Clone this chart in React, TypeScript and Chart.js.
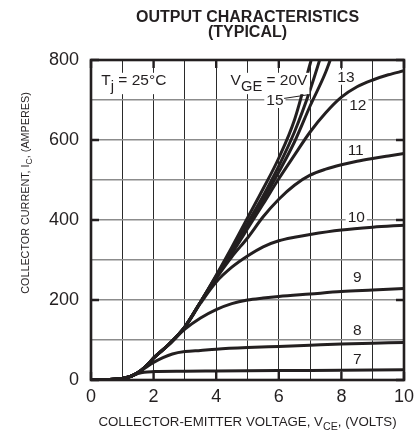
import React, { useEffect, useRef } from "react";
import { Chart, registerables } from "chart.js";

Chart.register(...registerables);

// ---- Data ----
const vceBundle = [0, 0.5, 1.0, 1.3, 1.6, 1.8, 2.0, 2.5, 3.0, 3.5, 4.0, 4.5, 5.0, 5.5, 6.0, 6.5, 7.0, 7.5, 8.0];
const ic20 = [0, 1, 4, 10, 24, 38, 55, 90, 133, 195, 262, 332, 405, 478, 555, 650, 790, 930, 1060];
const ic15 = [0, 1, 4, 10, 24, 38, 55, 90, 133, 195, 260, 325, 392, 460, 535, 620, 725, 850, 980];
const ic13 = [0, 1, 4, 10, 24, 38, 55, 90, 133, 195, 258, 320, 385, 450, 520, 595, 685, 770, 880];

const vce12 = [0, 0.5, 1, 1.3, 1.6, 1.8, 2, 2.5, 3, 3.5, 4, 4.5, 5, 5.5, 6, 6.5, 7, 7.5, 8, 8.5, 9, 9.5, 10];
const ic12 = [0, 1, 4, 10, 24, 38, 55, 90, 133, 195, 256, 316, 378, 440, 503, 562, 620, 668, 707, 733, 750, 763, 773];

const vce11 = [0, 0.5, 1, 1.3, 1.6, 1.8, 2, 2.5, 3, 3.5, 4, 4.5, 5, 5.5, 6, 6.5, 7, 7.5, 8, 8.5, 9, 9.5, 10];
const ic11 = [0, 1, 4, 10, 24, 38, 55, 90, 133, 195, 254, 308, 355, 408, 452, 487, 512, 527, 538, 547, 554, 560, 566];

const vce10 = [0, 0.5, 1, 1.3, 1.6, 1.8, 2, 2.5, 3, 3.5, 4, 4.5, 5, 5.5, 6, 6.5, 7, 8, 9, 10];
const ic10 = [0, 1, 4, 10, 24, 38, 55, 90, 132, 192, 245, 282, 310, 333, 348, 357, 364, 375, 382, 387];

const vce9 = [0, 0.5, 1, 1.3, 1.6, 1.8, 2, 2.5, 3, 3.5, 4, 4.5, 5, 5.5, 6, 7, 8, 9, 10];
const ic9 = [0, 1, 4, 10, 24, 38, 55, 89, 127, 155, 176, 191, 200, 205, 209, 215, 221, 225, 229];

const vce8 = [0, 0.5, 1, 1.3, 1.6, 1.8, 2, 2.3, 2.6, 3, 3.5, 4, 5, 6, 7, 8, 9, 10];
const ic8 = [0, 1, 4, 10, 23, 34, 44, 56, 65, 71, 74, 77, 81, 84, 87, 90, 92, 94];

const vce7 = [0, 0.5, 1, 1.3, 1.5, 1.7, 2, 3, 4, 6, 8, 10];
const ic7 = [0, 1, 4, 10, 16, 19.5, 21, 22, 22.5, 23.5, 24.5, 25.5];

const xTicks = [0, 2, 4, 6, 8, 10];
const yTicks = [0, 200, 400, 600, 800];

const FAMILY = "'Liberation Sans', Arial, Helvetica, sans-serif";
const INK = "#231f20";

type Seg = { t: string; sub?: boolean };

function drawRich(
  ctx: CanvasRenderingContext2D,
  segs: Seg[],
  x: number,
  y: number,
  size: number,
  align: "left" | "center",
  subScale: number,
  subShift: number,
  bg?: boolean
) {
  ctx.textAlign = "left";
  ctx.textBaseline = "alphabetic";
  let w = 0;
  const widths: number[] = [];
  for (const s of segs) {
    ctx.font = `${s.sub ? size * subScale : size}px ${FAMILY}`;
    const m = ctx.measureText(s.t).width;
    widths.push(m);
    w += m;
  }
  let cx = align === "center" ? x - w / 2 : x;
  if (bg) {
    ctx.fillStyle = "#ffffff";
    const hasSub = segs.some((s) => s.sub);
    ctx.fillRect(cx - 2, y - size * 0.8, w + 4, size * 0.85 + (hasSub ? size * subShift : 0) + 2);
  }
  ctx.fillStyle = INK;
  segs.forEach((s, i) => {
    ctx.font = `${s.sub ? size * subScale : size}px ${FAMILY}`;
    ctx.fillText(s.t, cx, s.sub ? y + size * subShift : y);
    cx += widths[i];
  });
}

const decorPlugin = {
  id: "decor",
  afterDraw(chart: any) {
    const { ctx, chartArea } = chart;
    const { left, right, top, bottom } = chartArea;
    const xs = chart.scales.x;
    const ys = chart.scales.y;
    ctx.save();

    // annotations
    const ann = (segs: Seg[], v: number, i: number, bg = true) =>
      drawRich(ctx, segs, xs.getPixelForValue(v), ys.getPixelForValue(i), 15.5, "left", 0.95, 0.4, bg);
    ann([{ t: "T" }, { t: "j", sub: true }, { t: " = 25°C" }], 0.33, 737);
    ann([{ t: "V" }, { t: "GE", sub: true }, { t: " = 20V" }], 4.46, 737);
    ann([{ t: "15" }], 5.6, 687);
    ann([{ t: "13" }], 7.87, 745);
    ann([{ t: "12" }], 8.25, 675);
    ann([{ t: "11" }], 8.2, 562);
    ann([{ t: "10" }], 8.2, 395);
    ann([{ t: "9" }], 8.37, 245);
    ann([{ t: "8" }], 8.37, 112);
    ann([{ t: "7" }], 8.37, 40);

    // leader line for 15
    ctx.strokeStyle = INK;
    ctx.lineWidth = 1;
    ctx.beginPath();
    ctx.moveTo(xs.getPixelForValue(6.17), ys.getPixelForValue(704));
    ctx.lineTo(xs.getPixelForValue(6.93), ys.getPixelForValue(713));
    ctx.stroke();

    // frame
    ctx.strokeStyle = INK;
    ctx.lineWidth = 2.6;
    ctx.strokeRect(left, top, right - left, bottom - top);

    // inward major ticks
    ctx.lineWidth = 2.4;
    ctx.beginPath();
    for (const v of xTicks) {
      const px = xs.getPixelForValue(v);
      ctx.moveTo(px, bottom);
      ctx.lineTo(px, bottom - 8);
      ctx.moveTo(px, top);
      ctx.lineTo(px, top + 8);
    }
    for (const v of yTicks) {
      const py = ys.getPixelForValue(v);
      ctx.moveTo(left, py);
      ctx.lineTo(left + 8, py);
      ctx.moveTo(right, py);
      ctx.lineTo(right - 8, py);
    }
    ctx.stroke();

    // title
    const cxm = (left + right) / 2;
    ctx.fillStyle = INK;
    ctx.textAlign = "center";
    ctx.textBaseline = "alphabetic";
    ctx.font = `bold 16px ${FAMILY}`;
    ctx.fillText("OUTPUT CHARACTERISTICS", cxm, 21.7);
    ctx.fillText("(TYPICAL)", cxm, 37.3);

    // x axis title
    drawRich(
      ctx,
      [{ t: "COLLECTOR-EMITTER VOLTAGE, V" }, { t: "CE", sub: true }, { t: ", (VOLTS)" }],
      cxm,
      426,
      13.3,
      "center",
      0.8,
      0.3
    );

    // y axis title (rotated)
    ctx.save();
    ctx.translate(28.5, 193);
    ctx.rotate(-Math.PI / 2);
    drawRich(
      ctx,
      [{ t: "COLLECTOR CURRENT, I" }, { t: "C", sub: true }, { t: ", (AMPERES)" }],
      0,
      0,
      10.8,
      "center",
      0.8,
      0.3
    );
    ctx.restore();

    ctx.restore();
  },
};

export default function App() {
  const ref = useRef<HTMLCanvasElement>(null);

  useEffect(() => {
    if (!ref.current) return;
    const curves = [
      { vce: vceBundle, ic: ic20 },
      { vce: vceBundle, ic: ic15 },
      { vce: vceBundle, ic: ic13 },
      { vce: vce12, ic: ic12 },
      { vce: vce11, ic: ic11 },
      { vce: vce10, ic: ic10 },
      { vce: vce9, ic: ic9 },
      { vce: vce8, ic: ic8 },
      { vce: vce7, ic: ic7 },
    ];
    const tickFont = { family: FAMILY, size: 18 };
    const chart = new Chart(ref.current, {
      type: "line",
      data: {
        datasets: curves.map((c) => ({
          data: c.vce.map((v, i) => ({ x: v, y: c.ic[i] })),
          borderColor: INK,
          borderWidth: 3,
          pointRadius: 0,
          fill: false,
          cubicInterpolationMode: "monotone" as const,
          clip: 0,
        })),
      },
      options: {
        animation: false,
        responsive: false,
        maintainAspectRatio: false,
        layout: { padding: { top: 60, right: 10, left: 0, bottom: 0 }, autoPadding: false },
        plugins: {
          legend: { display: false },
          tooltip: { enabled: false },
          title: { display: false },
        },
        scales: {
          x: {
            type: "linear",
            min: 0,
            max: 10,
            afterFit: (s: any) => {
              s.height = 54;
            },
            ticks: {
              stepSize: 1,
              autoSkip: false,
              maxRotation: 0,
              color: INK,
              font: tickFont,
              padding: 6,
              callback: (v: any) => (Number(v) % 2 === 0 ? String(v) : ""),
            },
            grid: { color: "#2a2a2a", lineWidth: 1, drawTicks: false },
            border: { display: false },
          },
          y: {
            type: "linear",
            min: 0,
            max: 800,
            afterFit: (s: any) => {
              s.width = 91;
            },
            ticks: {
              stepSize: 100,
              autoSkip: false,
              color: INK,
              font: tickFont,
              padding: 12,
              callback: (v: any) => (Number(v) % 200 === 0 ? String(v) : ""),
            },
            grid: { color: "#8c8c8c", lineWidth: 1.5, drawTicks: false },
            border: { display: false },
          },
        },
      },
      plugins: [decorPlugin],
    } as any);
    return () => chart.destroy();
  }, []);

  return (
    <div style={{ position: "absolute", left: 0, top: 0, width: 420, height: 434, background: "#fff" }}>
      <canvas ref={ref} width={420} height={434} style={{ width: 420, height: 434, display: "block" }} />
    </div>
  );
}
